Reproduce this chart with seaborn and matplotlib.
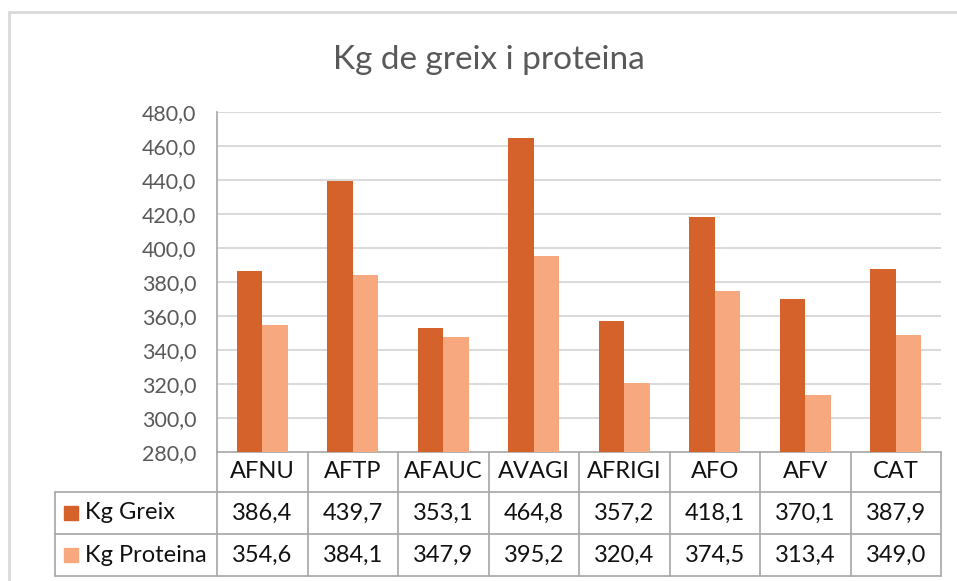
import numpy as np
import pandas as pd
import seaborn as sns
import matplotlib.pyplot as plt
from matplotlib.patches import Rectangle

categories = ["AFNU", "AFTP", "AFAUC", "AVAGI", "AFRIGI", "AFO", "AFV", "CAT"]
greix = [386.4, 439.7, 353.1, 464.8, 357.2, 418.1, 370.1, 387.9]
proteina = [354.6, 384.1, 347.9, 395.2, 320.4, 374.5, 313.4, 349.0]
series = ["Kg Greix", "Kg Proteina"]
colors = ["#D5622A", "#F7A87E"]
yticks = [280, 300, 320, 340, 360, 380, 400, 420, 440, 460, 480]

df = pd.DataFrame({
    "cat": categories * 2,
    "val": greix + proteina,
    "serie": [series[0]] * len(categories) + [series[1]] * len(categories),
})

sns.set_style("white")
plt.rcParams['font.family'] = ['Lato', 'DejaVu Sans']

fig = plt.figure(figsize=(9.57, 5.81), dpi=100)
ax = fig.add_axes([217/957, 1 - 452/581, 724/957, 340/581])

sns.barplot(data=df, x="cat", y="val", hue="serie", palette=colors, width=0.56,
            saturation=1, legend=False, ax=ax, zorder=3, linewidth=0, edgecolor="none")

ax.set_ylim(280, 480)
ax.set_xlim(-0.5, 7.5)
ax.set_yticks(yticks)
ax.set_yticklabels([f"{v:.1f}".replace(".", ",") for v in yticks], fontsize=15.4, color="#595959")
ax.tick_params(axis="y", length=0, pad=15)
ax.set_xticks([])
ax.set_xlabel("")
ax.set_ylabel("")
for y in yticks[1:]:
    ax.axhline(y, color="#d9d9d9", lw=1.4, zorder=1)
for s in ["top", "right"]:
    ax.spines[s].set_visible(False)
ax.spines["left"].set_color("#a6a6a6")
ax.spines["bottom"].set_color("#a6a6a6")
ax.spines["left"].set_linewidth(1.2)
ax.spines["bottom"].set_linewidth(1.2)

# data table under the chart
tc = "#a6a6a6"
row_y = [0, -0.1176, -0.2412, -0.3647]
left = -0.2238
trans = ax.get_xaxis_transform()
for i in range(len(categories) + 1):
    ax.plot([i - 0.5, i - 0.5], [0, row_y[-1]], color=tc, lw=1.2, transform=trans, clip_on=False)
for y in row_y[1:]:
    ax.plot([left, 1], [y, y], color=tc, lw=1.2, transform=ax.transAxes, clip_on=False)
ax.plot([left, left], [row_y[1], row_y[-1]], color=tc, lw=1.2, transform=ax.transAxes, clip_on=False)

for i, c in enumerate(categories):
    ax.text(i, (row_y[0] + row_y[1]) / 2, c, transform=trans, ha="center", va="center",
            fontsize=17, color="#111111", clip_on=False)
for r, vals in enumerate([greix, proteina]):
    yc = (row_y[r + 1] + row_y[r + 2]) / 2
    for i, v in enumerate(vals):
        ax.text(i, yc, f"{v:.1f}".replace(".", ","), transform=trans, ha="center", va="center",
                fontsize=17, color="#111111", clip_on=False)
    ax.add_patch(Rectangle((left + 0.013, yc - 0.021), 0.019, 0.042, transform=ax.transAxes,
                           color=colors[r], clip_on=False))
    ax.text(left + 0.041, yc, series[r], transform=ax.transAxes, ha="left", va="center",
            fontsize=17, color="#111111", clip_on=False)

fig.text(489/957, 1 - 60/581, "Kg de greix i proteina", ha="center", va="center",
         fontsize=24, color="#595959")

# chart frame
fig.patches.append(Rectangle((9/957, -0.1), 1.2, 1 - 12/581 + 0.1, transform=fig.transFigure,
                             fill=False, edgecolor="#d9d9d9", lw=2))

fig.savefig("out.png", dpi=100)
